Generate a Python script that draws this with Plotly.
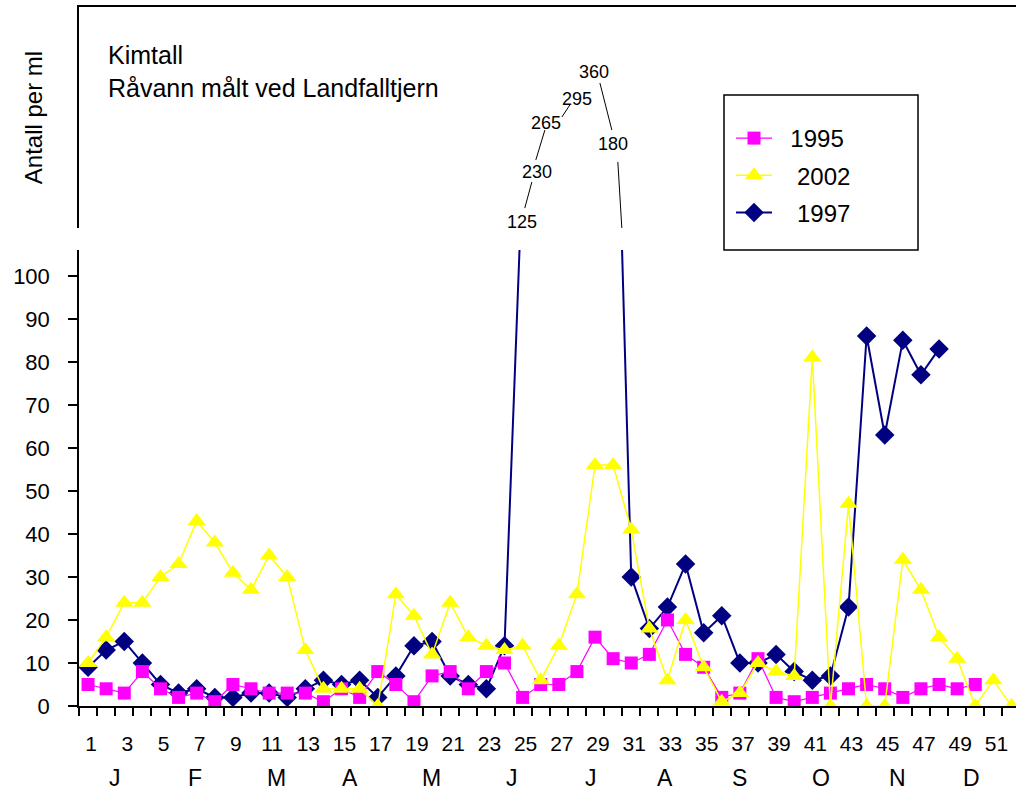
import plotly.graph_objects as go

# ---------------- data ----------------
weeks_1995 = list(range(1, 51))
kim_1995 = [5, 4, 3, 8, 4, 2, 3, 1, 5, 4, 3, 3, 3, 1, 4, 2, 8,
            5, 1, 7, 8, 4, 8, 10, 2, 5, 5, 8, 16, 11, 10, 12, 20, 12, 9,
            2, 3, 11, 2, 1, 2, 3, 4, 5, 4, 2, 4, 5, 4, 5]

weeks_2002 = list(range(1, 53))
kim_2002 = [10, 16, 24, 24, 30, 33, 43, 38, 31, 27, 35, 30, 13, 4, 4, 4, 0,
            26, 21, 12, 24, 16, 14, 13, 14, 6, 14, 26, 56, 56, 41, 18, 6, 20, 9,
            1, 3, 10, 8, 7, 81, 0, 47, 0, 0, 34, 27, 16, 11, 0, 6, 0]

weeks_1997 = list(range(1, 49))
kim_1997 = [9, 13, 15, 10, 5, 3, 4, 2, 2, 3, 3, 2, 4, 6, 5, 6, 2,
            7, 14, 15, 7, 5, 4, 14, 125, 230, 265, 295, 360, 180, 30, 18, 23, 33, 17,
            21, 10, 10, 12, 8, 6, 7, 23, 86, 63, 85, 77, 83]

week_ticks = list(range(1, 52, 2))
week_ticktext = [str(w) for w in week_ticks]
month_labels = ["J", "F", "M", "A", "M", "J", "J", "A", "S", "O", "N", "D"]
month_pos = [2.47, 6.9, 11.4, 15.45, 19.98, 24.4, 28.8, 32.85, 37.0, 41.5, 45.7, 49.8]
y_ticks = list(range(0, 101, 10))

# off-scale 1997 peak (weeks 25-30), labelled in the upper panel
peak_weeks = [25, 26, 27, 28, 29, 30]
peak_values = [kim_1997[w - 1] for w in peak_weeks]
peak_label_level = [0.027, 0.253, 0.475, 0.584, 0.706, 0.380]
peak_label_xshift = [-1, -4, -13, 0, -1, 0]
leader_segments = [((25.12, 0.090), (25.51, 0.208)),
                   ((25.73, 0.308), (26.23, 0.443)),
                   ((27.17, 0.502), (27.61, 0.557)),
                   ((29.27, 0.656), (29.93, 0.443)),
                   ((30.26, 0.299), (30.48, 0.0))]

FONT = "Liberation Sans, Arial, sans-serif"
W, H = 1016, 791
L, R, T, B = 79, 0, 7, 85
plot_h = H - T - B
lower_top_px = 250
upper_bot_px = 228
lower_dom = [0, (H - B - lower_top_px) / plot_h]
upper_dom = [(H - B - upper_bot_px) / plot_h, 1]


def px_x(px):
    return (px - L) / (W - L - R)


def px_y(py):
    return (H - B - py) / plot_h


fig = go.Figure()

fig.add_trace(go.Scatter(
    x=weeks_1997, y=kim_1997, name="&nbsp;&nbsp;&nbsp;1997", mode="lines+markers",
    line=dict(color="#000080", width=2),
    marker=dict(symbol="diamond", size=15, color="#000080"),
    legendrank=3, legendgroup="c", xaxis="x", yaxis="y"))
fig.add_trace(go.Scatter(
    x=weeks_1995, y=kim_1995, name="&nbsp;&nbsp;1995", mode="lines+markers",
    line=dict(color="#FF00FF", width=1.2),
    marker=dict(symbol="square", size=13, color="#FF00FF"),
    legendrank=1, legendgroup="a", xaxis="x", yaxis="y"))
fig.add_trace(go.Scatter(
    x=weeks_2002, y=kim_2002, name="&nbsp;&nbsp;&nbsp;2002", mode="lines+markers",
    line=dict(color="#FFFF00", width=1.5),
    marker=dict(symbol="triangle-up", size=16, color="#FFFF00"),
    legendrank=2, legendgroup="b", xaxis="x", yaxis="y"))

annotations = []
for wk, val, lvl, xs in zip(peak_weeks, peak_values, peak_label_level, peak_label_xshift):
    annotations.append(dict(x=wk, y=lvl, xref="x2", yref="y2", text=str(val),
                            showarrow=False, xshift=xs,
                            font=dict(family=FONT, size=18, color="black")))
for lab, pos in zip(month_labels, month_pos):
    annotations.append(dict(x=pos, y=px_y(778), xref="x", yref="paper", text=lab,
                            showarrow=False, yanchor="middle",
                            font=dict(family=FONT, size=23, color="black")))
annotations.append(dict(x=px_x(106), y=px_y(55), xref="paper", yref="paper",
                        text="Kimtall", showarrow=False, xanchor="left", yanchor="middle",
                        font=dict(family=FONT, size=25, color="black")))
annotations.append(dict(x=px_x(106), y=px_y(88), xref="paper", yref="paper",
                        text="Råvann målt ved Landfalltjern", showarrow=False,
                        xanchor="left", yanchor="middle",
                        font=dict(family=FONT, size=25, color="black")))

shapes = []
for (x0, y0), (x1, y1) in leader_segments:
    shapes.append(dict(type="line", xref="x2", yref="y2", x0=x0, y0=y0, x1=x1, y1=y1,
                       line=dict(color="black", width=1)))
shapes.append(dict(type="rect", xref="paper", yref="paper",
                   x0=px_x(724), x1=px_x(918), y0=px_y(250), y1=px_y(95),
                   line=dict(color="black", width=1.5), fillcolor="rgba(0,0,0,0)"))

fig.update_layout(
    width=W, height=H,
    margin=dict(l=L, r=R, t=T, b=B),
    paper_bgcolor="white", plot_bgcolor="white",
    font=dict(family=FONT, size=22, color="black"),
    xaxis=dict(domain=[0, 1], range=[0.5, 52.25], anchor="y",
               tickmode="array", tickvals=week_ticks, ticktext=week_ticktext,
               ticks="", ticklabelstandoff=18, ticklabelshift=3,
               showline=True, linecolor="black", linewidth=1.5,
               showgrid=False, zeroline=False,
               minor=dict(tick0=0.5, dtick=1, ticks="outside", ticklen=8,
                          tickcolor="black", tickwidth=1.5, showgrid=False),
               tickfont=dict(family=FONT, size=21)),
    yaxis=dict(domain=lower_dom, range=[0, 106], anchor="x",
               tickmode="array", tickvals=y_ticks,
               ticks="outside", ticklen=9, tickcolor="black", tickwidth=1.5,
               ticklabelstandoff=14,
               showline=True, linecolor="black", linewidth=1.5,
               showgrid=False, zeroline=False,
               tickfont=dict(family=FONT, size=22)),
    xaxis2=dict(domain=[0, 1], range=[0.5, 52.25], anchor="y2", side="top",
                showline=True, linecolor="black", linewidth=1.5,
                showticklabels=False, ticks="", showgrid=False, zeroline=False),
    yaxis2=dict(domain=upper_dom, range=[0, 1], anchor="x2",
                showline=True, linecolor="black", linewidth=1.5,
                showticklabels=False, ticks="", showgrid=False, zeroline=False,
                title=dict(text="Antall per ml", standoff=28,
                           font=dict(family=FONT, size=24))),
    showlegend=True,
    legend=dict(x=px_x(731), y=px_y(116), xanchor="left", yanchor="top",
                bgcolor="rgba(0,0,0,0)", borderwidth=0, itemwidth=36,
                tracegroupgap=3, font=dict(family=FONT, size=24)),
    annotations=annotations,
    shapes=shapes,
)

fig.write_html("out.html", config={"displayModeBar": False},
               post_script="document.body.style.margin='0';document.body.style.overflow='hidden';")
